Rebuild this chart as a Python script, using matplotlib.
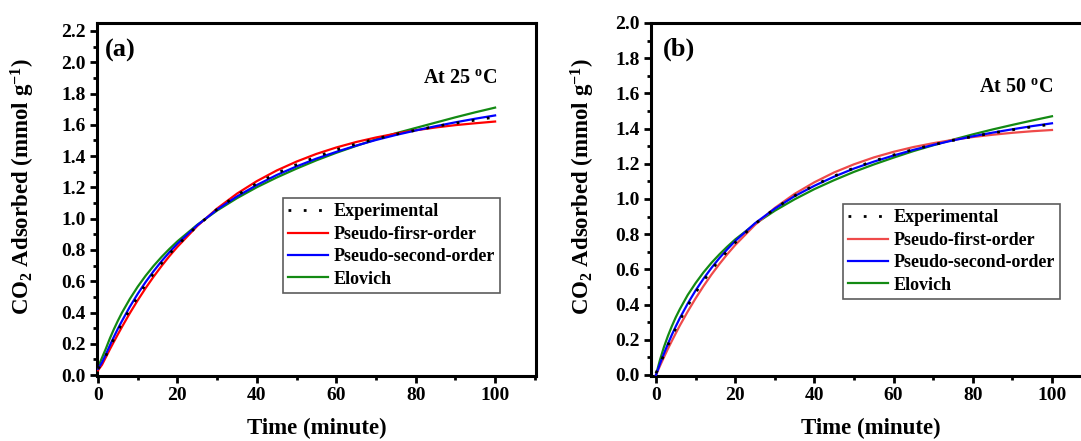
import matplotlib
matplotlib.use("Agg")
from matplotlib import pyplot as plt
from matplotlib.ticker import MultipleLocator

plt.rcParams["font.family"] = "Liberation Serif"
plt.rcParams["font.weight"] = "bold"
plt.rcParams["mathtext.fontset"] = "custom"
plt.rcParams["mathtext.rm"] = "Liberation Serif:bold"
plt.rcParams["mathtext.it"] = "Liberation Serif:bold"
plt.rcParams["mathtext.bf"] = "Liberation Serif:bold"
plt.rcParams["mathtext.default"] = "rm"

# time axis shared by every series (minutes)
time_min = [0, 1, 2, 3, 4, 5, 6, 8, 10, 12, 14, 16, 18, 20, 25, 30, 35, 40,
            45, 50, 55, 60, 65, 70, 75, 80, 85, 90, 95, 100]

# 25 C uptake (mmol/g)
exp_25 = [0.04, 0.075, 0.125, 0.178, 0.232, 0.282, 0.33, 0.42, 0.50, 0.58, 0.65, 0.715,
          0.775, 0.83, 0.955, 1.06, 1.15, 1.225, 1.29, 1.345, 1.395, 1.44, 1.477, 1.51,
          1.54, 1.565, 1.59, 1.61, 1.63, 1.65]
pfo_25 = [0.03, 0.065, 0.115, 0.165, 0.213, 0.26, 0.306, 0.395, 0.478, 0.556, 0.629, 0.697,
          0.761, 0.82, 0.953, 1.065, 1.16, 1.24, 1.308, 1.365, 1.414, 1.455, 1.49, 1.519,
          1.544, 1.565, 1.583, 1.598, 1.61, 1.621]
pso_25 = [0.04, 0.08, 0.133, 0.19, 0.244, 0.296, 0.344, 0.436, 0.519, 0.595, 0.664, 0.728,
          0.786, 0.84, 0.958, 1.058, 1.142, 1.215, 1.279, 1.334, 1.384, 1.427, 1.467, 1.503,
          1.535, 1.564, 1.591, 1.616, 1.639, 1.66]
elovich_25 = [0.05, 0.11, 0.17, 0.235, 0.293, 0.347, 0.397, 0.486, 0.565, 0.635, 0.698, 0.755,
              0.807, 0.855, 0.961, 1.052, 1.131, 1.201, 1.263, 1.32, 1.373, 1.421, 1.465, 1.507,
              1.546, 1.58, 1.614, 1.648, 1.68, 1.71]

# 50 C uptake (mmol/g)
exp_50 = [0.01, 0.06, 0.115, 0.168, 0.218, 0.265, 0.31, 0.393, 0.468, 0.535, 0.597, 0.653,
          0.703, 0.752, 0.858, 0.945, 1.018, 1.078, 1.13, 1.176, 1.216, 1.25, 1.281, 1.308,
          1.333, 1.355, 1.375, 1.393, 1.41, 1.425]
pfo_50 = [0.0, 0.051, 0.10, 0.148, 0.193, 0.237, 0.28, 0.36, 0.435, 0.505, 0.57, 0.63,
          0.686, 0.738, 0.853, 0.949, 1.029, 1.095, 1.151, 1.197, 1.236, 1.268, 1.295, 1.317,
          1.336, 1.352, 1.365, 1.376, 1.385, 1.392]
pso_50 = [0.0, 0.063, 0.121, 0.176, 0.228, 0.276, 0.322, 0.405, 0.48, 0.547, 0.608, 0.664,
          0.714, 0.761, 0.862, 0.945, 1.016, 1.075, 1.127, 1.173, 1.212, 1.247, 1.279, 1.307,
          1.333, 1.356, 1.377, 1.396, 1.414, 1.43]
elovich_50 = [0.0, 0.085, 0.158, 0.221, 0.277, 0.328, 0.373, 0.454, 0.522, 0.583, 0.637, 0.685,
              0.729, 0.77, 0.858, 0.933, 0.998, 1.056, 1.107, 1.154, 1.196, 1.235, 1.272, 1.305,
              1.337, 1.367, 1.395, 1.421, 1.446, 1.47]

model_labels_a = ["Experimental", "Pseudo-firsr-order", "Pseudo-second-order", "Elovich"]
model_labels_b = ["Experimental", "Pseudo-first-order", "Pseudo-second-order", "Elovich"]

W, H = 1081, 441
fig = plt.figure(figsize=(W / 100, H / 100), dpi=100)


def px_rect(left, top, width, height):
    return [left / W, 1 - (top + height) / H, width / W, height / H]


def style_axes(ax, ymax):
    for sp in ax.spines.values():
        sp.set_linewidth(2.2)
    ax.set_ylim(-0.006, ymax)
    ax.xaxis.set_major_locator(MultipleLocator(20))
    ax.xaxis.set_minor_locator(MultipleLocator(10))
    ax.yaxis.set_major_locator(MultipleLocator(0.2))
    ax.yaxis.set_minor_locator(MultipleLocator(0.1))
    ax.yaxis.set_major_formatter(lambda v, p: f"{v:.1f}")
    ax.tick_params(which="major", direction="out", length=5, width=2, labelsize=14, pad=3)
    ax.tick_params(which="minor", direction="out", length=3, width=2)
    ax.tick_params(top=False, right=False)
    ax.set_xlabel("Time (minute)", fontsize=16.5, fontweight="bold")
    ax.set_ylabel(r"CO$_2$ Adsorbed (mmol g$^{-1}$)", fontsize=16.5, fontweight="bold")
    ax.xaxis.set_label_coords(0.5, -0.12)


def draw_panel(ax, exp, pfo, pso, elo, red):
    h_exp, = ax.plot(time_min, exp, color="black", lw=2, linestyle=(0, (1, 4.5)), zorder=5)
    h_pfo, = ax.plot(time_min, pfo, color=red, lw=1.6, zorder=3)
    h_pso, = ax.plot(time_min, pso, color="#0000ff", lw=1.6, zorder=4)
    h_elo, = ax.plot(time_min, elo, color="#138a13", lw=1.6, zorder=2)
    return [h_exp, h_pfo, h_pso, h_elo]


def add_legend(handles, labels, left, top):
    leg = fig.legend(handles, labels, loc="upper left",
                     bbox_to_anchor=(left / W, 1 - top / H), bbox_transform=fig.transFigure,
                     fontsize=13, frameon=True, fancybox=False, borderpad=0.3,
                     labelspacing=0.3, handlelength=2.2, handletextpad=0.3, borderaxespad=0)
    leg.get_frame().set_edgecolor("#333333")
    leg.get_frame().set_linewidth(1.2)
    return leg


# (a) 25 C
ax1 = fig.add_axes(px_rect(97, 23, 439, 353))
ax1.set_xlim(-0.25, 110.3)
style_axes(ax1, 2.251)
handles = draw_panel(ax1, exp_25, pfo_25, pso_25, elovich_25, "#ff0000")
ax1.yaxis.set_label_coords(-0.137, 0.538)
ax1.text(0.018, 0.921, "(a)", transform=ax1.transAxes, fontsize=19, fontweight="bold", va="center")
ax1.text(0.911, 0.830, r"At 25 $^{\rm o}$C", transform=ax1.transAxes, fontsize=14.5,
         fontweight="bold", ha="right", va="baseline")
add_legend(handles, model_labels_a, 283, 198)

# (b) 50 C, right edge runs past the figure
ax2 = fig.add_axes(px_rect(651, 23, 439, 353))
ax2.set_xlim(-1.26, 109.6)
style_axes(ax2, 2.0)
handles = draw_panel(ax2, exp_50, pfo_50, pso_50, elovich_50, "#ef4a4a")
ax2.yaxis.set_label_coords(-0.123, 0.538)
ax2.text(0.028, 0.925, "(b)", transform=ax2.transAxes, fontsize=19, fontweight="bold", va="center")
ax2.text(0.916, 0.805, r"At 50 $^{\rm o}$C", transform=ax2.transAxes, fontsize=14.5,
         fontweight="bold", ha="right", va="baseline")
add_legend(handles, model_labels_b, 843, 204)

fig.savefig("out.png", dpi=100)
